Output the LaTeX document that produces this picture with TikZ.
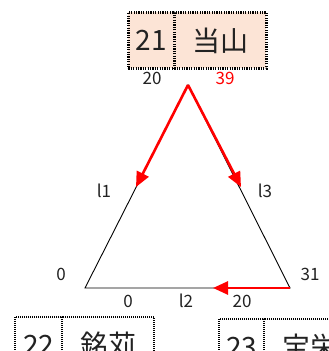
\documentclass[tikz,border=0pt]{standalone}
\usepackage{fontspec}
\setmainfont{Noto Sans CJK JP}
\usetikzlibrary{arrows.meta}
\definecolor{peach}{HTML}{FCE4D6}
\definecolor{ink}{HTML}{222222}
\tikzset{
  cellbig/.style={draw=black, line width=2.8pt, dash pattern=on 1.2pt off 1.2pt, fill=peach, minimum height=56pt, inner sep=0pt, font=\fontsize{28}{28}\selectfont, text=ink, anchor=north west},
  cellsmall/.style={draw=black, line width=2.2pt, dash pattern=on 1pt off 1pt, fill=white, minimum height=56pt, inner sep=0pt, font=\fontsize{28}{28}\selectfont, text=ink, anchor=north west},
  lab/.style={font=\fontsize{17}{17}\selectfont, text=ink, inner sep=0pt},
  edge/.style={draw=black, line width=0.9pt},
  redarrow/.style={draw=red, line width=2.6pt, -{Triangle[length=15pt,width=13pt]}},
}
\begin{document}
\begin{tikzpicture}[x=1pt,y=-1pt]
\useasboundingbox (0,0) rectangle (329,351);
% triangle
\coordinate (A) at (188,85);
\coordinate (L) at (85,288);
\coordinate (R) at (290,288);
\coordinate (t1) at (136,187);
\coordinate (t3) at (241,187);
\coordinate (t2) at (213,288);
\draw[edge] (A) -- (L) -- (R) -- cycle;
\draw[redarrow] (A) -- (t1);
\draw[redarrow] (A) -- (t3);
\draw[redarrow] (R) -- (t2);
% top box
\node[cellbig, minimum width=46pt] (n21) at (127,11) {21};
\node[cellbig, minimum width=92pt] (n21n) at (173,11) {当山};
% bottom boxes
\node[cellsmall, minimum width=47pt] (n22) at (14,316) {22};
\node[cellsmall, minimum width=92pt] (n22n) at (61,316) {銘苅};
\node[cellsmall, minimum width=45pt] (n23) at (218,318) {23};
\node[cellsmall, minimum width=92pt] (n23n) at (263,318) {宝栄};
% labels
\node[lab] (a20) at (152,78) {20};
\node[lab, text=red] (a39) at (225,78) {39};
\node[lab] (l1) at (104,191) {l1};
\node[lab] (l3) at (265,191) {l3};
\node[lab] (z0) at (61,274) {0};
\node[lab] (r31) at (310,274) {31};
\node[lab] (b0) at (128,301) {0};
\node[lab] (l2) at (186,301) {l2};
\node[lab] (b20) at (242,301) {20};
\end{tikzpicture}
\end{document}
